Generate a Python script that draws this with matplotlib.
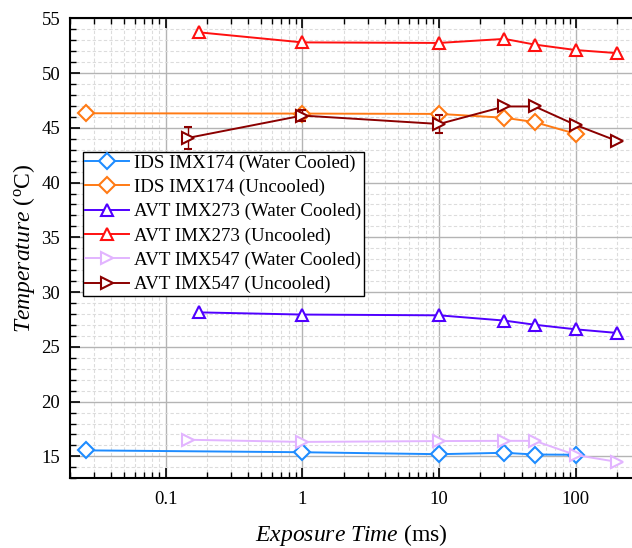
import matplotlib
matplotlib.use("Agg")
import matplotlib.pyplot as plt
from matplotlib.ticker import LogLocator, MultipleLocator, FixedLocator, FixedFormatter, NullFormatter

plt.rcParams['font.family'] = ['Liberation Serif', 'DejaVu Serif']
plt.rcParams['mathtext.fontset'] = 'custom'
plt.rcParams['mathtext.rm'] = 'Liberation Serif'
plt.rcParams['mathtext.it'] = 'Liberation Serif:italic'

# ---- data ----
x_ids = [0.026, 1, 10, 30, 50, 100]
ids_cooled = [15.55, 15.38, 15.2, 15.33, 15.17, 15.15]
ids_uncooled = [46.33, 46.3, 46.27, 45.92, 45.52, 44.45]

x_273 = [0.175, 1, 10, 30, 50, 100, 200]
avt273_cooled = [28.15, 27.95, 27.88, 27.4, 27.02, 26.6, 26.27]
avt273_uncooled = [53.72, 52.8, 52.75, 53.12, 52.6, 52.1, 51.82]

x_547 = [0.146, 1, 10, 30, 50, 100, 200]
avt547_cooled = [16.52, 16.32, 16.4, 16.42, 16.42, 15.12, 14.5]
avt547_uncooled = [44.08, 46.12, 45.35, 46.95, 46.95, 45.25, 43.8]
avt547_uncooled_err = [1.0, 0.5, 0.85, 0, 0, 0, 0]

labels = ["IDS IMX174 (Water Cooled)", "IDS IMX174 (Uncooled)",
          "AVT IMX273 (Water Cooled)", "AVT IMX273 (Uncooled)",
          "AVT IMX547 (Water Cooled)", "AVT IMX547 (Uncooled)"]
colors = ["#1E8CFF", "#FF7A14", "#5000FF", "#FF1010", "#E2B4FF", "#8B0000"]

fig = plt.figure(figsize=(6.32, 5.48), dpi=100)
ax = fig.add_axes([70/632, (548-478.3)/548, (632-70)/632, 460/548])

kw = dict(lw=1.4, mew=1.5, mfc='white', ms=9)
kwd = {**kw, 'ms': 8}
h = []
h += ax.plot(x_ids, ids_cooled, marker='D', color=colors[0], label=labels[0], **kwd)
h += ax.plot(x_ids, ids_uncooled, marker='D', color=colors[1], label=labels[1], **kwd)
h += ax.plot(x_273, avt273_cooled, marker='^', color=colors[2], label=labels[2], **kw)
h += ax.plot(x_273, avt273_uncooled, marker='^', color=colors[3], label=labels[3], **kw)
h += ax.plot(x_547, avt547_cooled, marker='>', color=colors[4], label=labels[4], **kw)
eb = ax.errorbar(x_547, avt547_uncooled, yerr=avt547_uncooled_err, marker='>', color=colors[5],
                 capsize=3, elinewidth=1.0, capthick=1.0, **kw)
h.append(eb[0])

ax.set_xscale('log')
ax.set_xlim(0.02, 257)
ax.set_ylim(13, 55)

ax.xaxis.set_major_locator(FixedLocator([0.1, 1, 10, 100]))
ax.xaxis.set_major_formatter(FixedFormatter(["0.1", "1", "10", "100"]))
ax.xaxis.set_minor_locator(LogLocator(base=10, subs=range(2, 10)))
ax.xaxis.set_minor_formatter(NullFormatter())
ax.yaxis.set_major_locator(MultipleLocator(5))
ax.yaxis.set_minor_locator(MultipleLocator(1))

ax.tick_params(axis='both', which='major', direction='in', length=7, width=1.2, labelsize=13.5)
ax.tick_params(axis='both', which='minor', direction='in', length=4, width=1.0)
ax.tick_params(axis='x', which='both', top=True, bottom=True)
ax.tick_params(axis='y', which='both', left=True, right=False)
ax.tick_params(axis='x', which='major', pad=9)
ax.tick_params(axis='y', which='major', pad=7)

for s in ['left', 'bottom', 'top']:
    ax.spines[s].set_linewidth(1.5)
ax.spines['right'].set_visible(False)

ax.grid(True, which='major', color='#b4b4b4', lw=1.0, ls='-')
ax.grid(True, which='minor', color='#dcdcdc', lw=0.8, ls=(0, (3, 2)))
ax.set_axisbelow(True)

ax.set_xlabel(r"$\mathit{Exposure\ Time}$ (ms)", fontsize=17, labelpad=10)
ax.set_ylabel(r"$\mathit{Temperature}$ ($^{\mathrm{o}}$C)", fontsize=17, labelpad=3)

leg = ax.legend(h, labels, loc='upper left', bbox_to_anchor=(0.0225, 0.71), fontsize=13.6,
                frameon=True, fancybox=False, edgecolor='black', framealpha=1,
                handlelength=2.3, labelspacing=0.37, borderpad=0.15, handletextpad=0.25,
                borderaxespad=0)
leg.get_frame().set_linewidth(1.0)

fig.savefig("out.png", dpi=100)
